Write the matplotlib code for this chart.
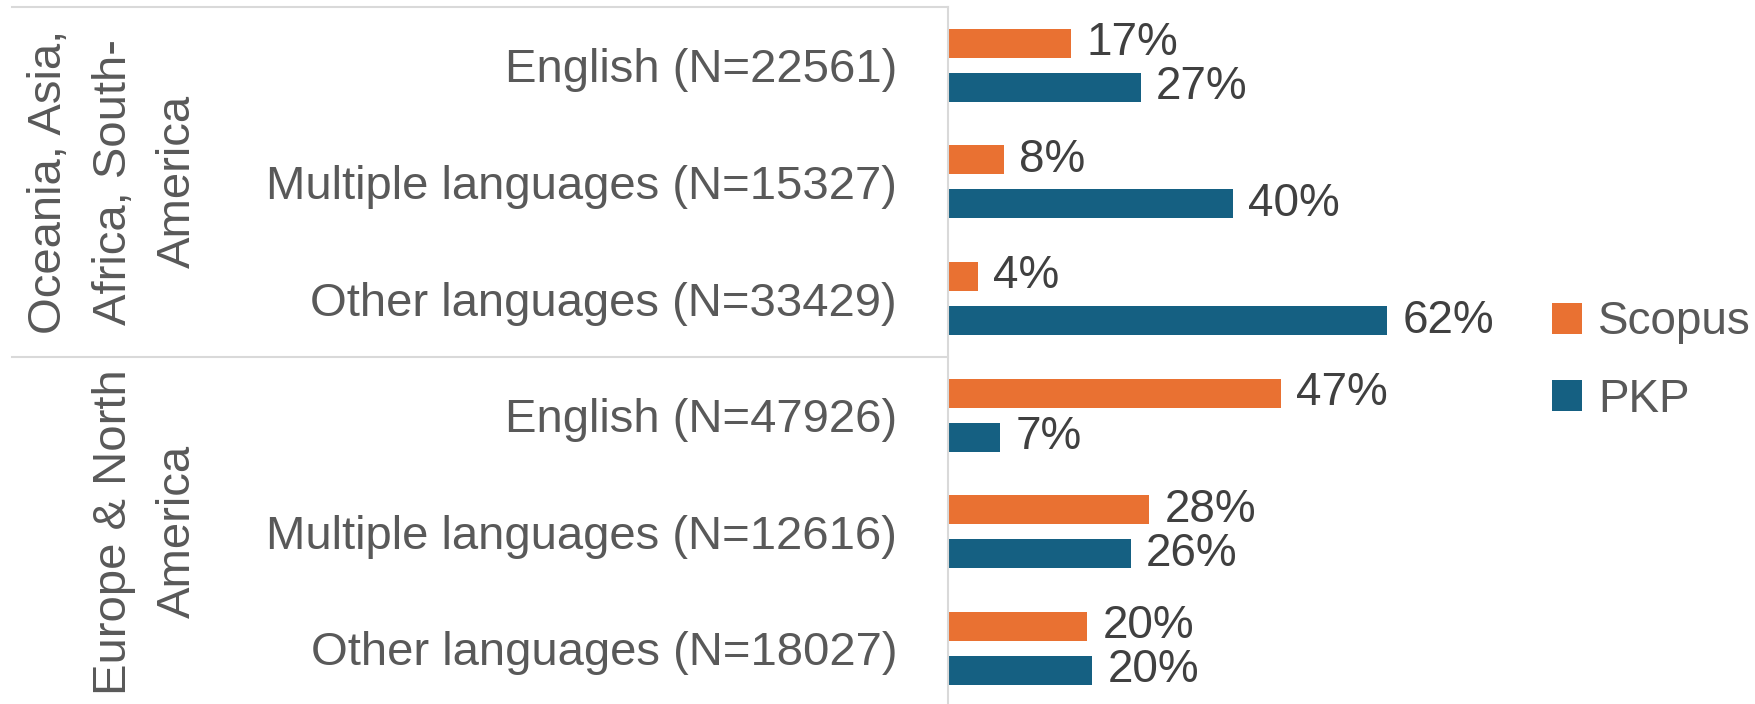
import numpy as np
import matplotlib
matplotlib.use("Agg")
import matplotlib.pyplot as plt
import matplotlib.transforms as mtransforms

plt.rcParams['font.family'] = ['Liberation Sans', 'DejaVu Sans']

# data (percent of journals)
categories = ["English (N=22561)", "Multiple languages (N=15327)", "Other languages (N=33429)",
              "English (N=47926)", "Multiple languages (N=12616)", "Other languages (N=18027)"]
regions = ["Oceania, Asia,\nAfrica, South-\nAmerica", "Europe & North\nAmerica"]
region_center = [1, 4]
scopus = [17.4, 7.9, 4.2, 47.0, 28.4, 19.7]
pkp = [27.2, 40.2, 62.0, 7.4, 25.8, 20.4]

ORANGE = "#E97132"
BLUE = "#156082"
GRID = "#D9D9D9"
TXT = "#595959"

W, H = 1756, 704
fig = plt.figure(figsize=(W / 100, H / 100), dpi=100)
ax = fig.add_axes([948 / W, 1 - 706.6 / H, 600 / W, 699.6 / H])

y = np.arange(len(categories))
off, h = 0.189, 0.249
b1 = ax.barh(y - off, scopus, height=h, color=ORANGE, label="Scopus")
b2 = ax.barh(y + off, pkp, height=h, color=BLUE, label="PKP")

for bars, vals in [(b1, scopus), (b2, pkp)]:
    ax.bar_label(bars, labels=[f"{v:.0f}%" for v in vals], padding=11,
                 fontsize=33, color="#404040")

ax.set_yticks(y, categories, fontsize=34, color=TXT)
ax.tick_params(axis="y", length=0, pad=36.7)
ax.xaxis.set_visible(False)
for s in ["top", "right", "bottom"]:
    ax.spines[s].set_visible(False)
ax.spines["left"].set_color(GRID)
ax.spines["left"].set_linewidth(1.5)

# group separators and region labels (x in figure coords, y in data)
trans = mtransforms.blended_transform_factory(fig.transFigure, ax.transData)
for yy in [-0.5, 2.5]:
    ax.plot([12 / W, 948 / W], [yy, yy], transform=trans, color=GRID, lw=1.5, clip_on=False)
for r, c in zip(regions, region_center):
    ax.text(200 / W, c, r, transform=trans, rotation=90, ha="right", va="center",
            multialignment="center", fontsize=34, color=TXT, linespacing=1.6)

ax.set_xlim(0, 600 / 7.08)
ax.set_ylim(len(categories) - 0.5, -0.5)

fig.legend(handles=[b1, b2], loc="center left", bbox_to_anchor=(1552 / W, 1 - 361 / H),
           frameon=False, fontsize=33, labelcolor=TXT, handlelength=0.655, handleheight=0.655,
           handletextpad=0.35, labelspacing=0.73, borderpad=0, borderaxespad=0)

fig.savefig("out.png", dpi=100)
